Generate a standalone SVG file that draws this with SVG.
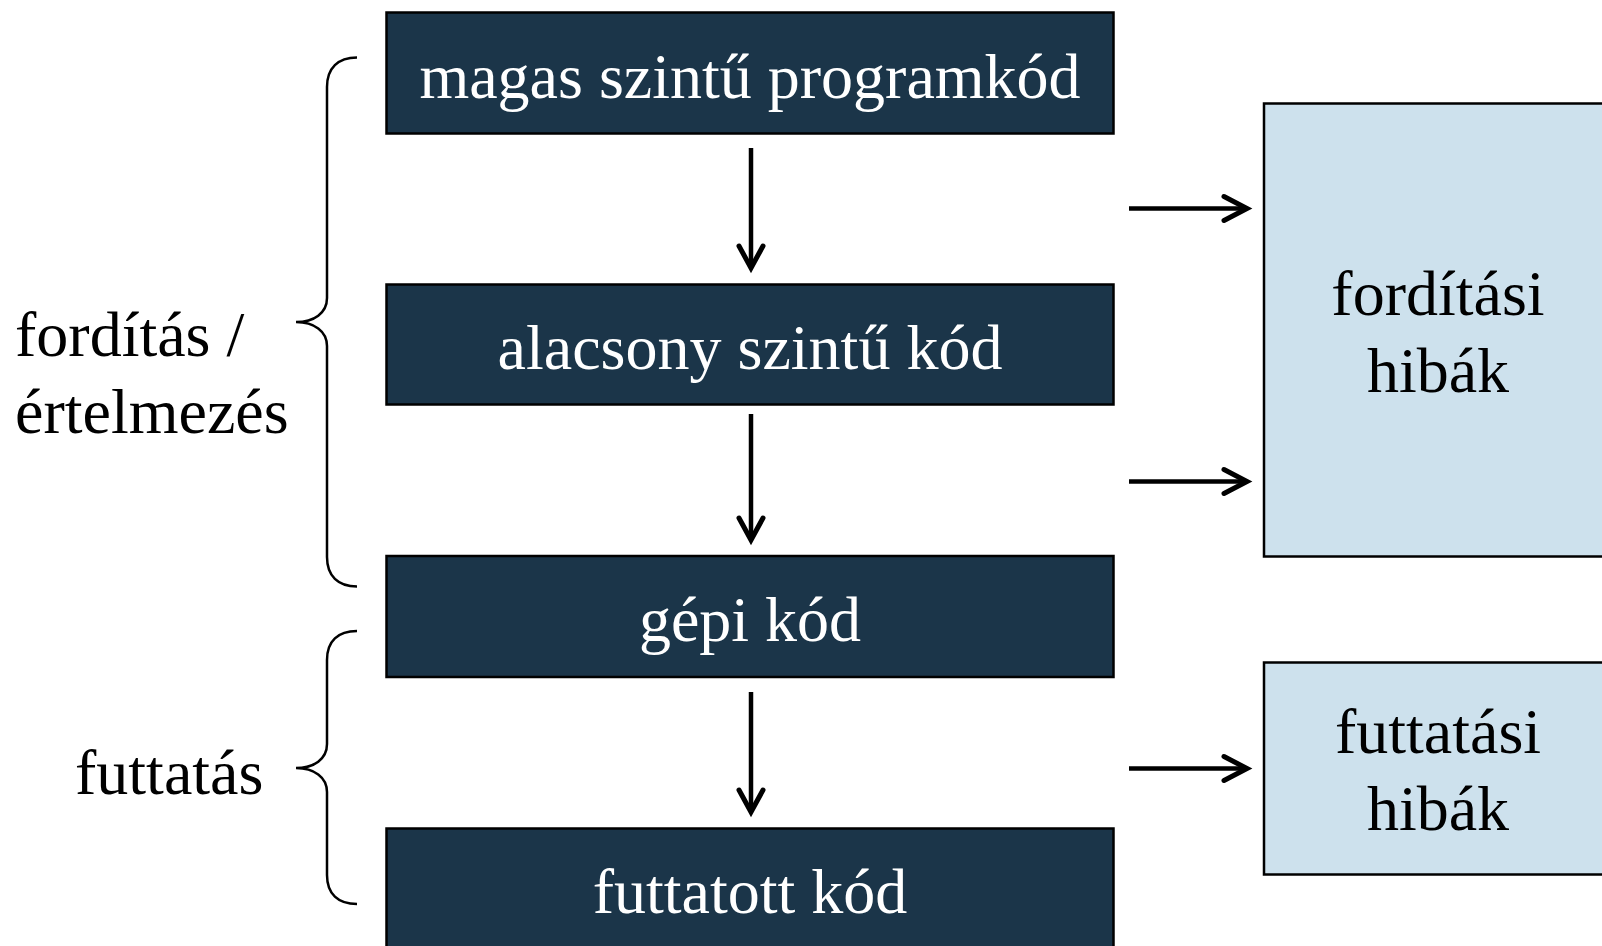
<svg xmlns="http://www.w3.org/2000/svg" width="1602" height="946" viewBox="0 0 1602 946">
  <defs>
    <style>
      .stage { fill: #1b3549; stroke: #000; stroke-width: 2.5; }
      .err { fill: #cde1ed; stroke: #000; stroke-width: 2.5; }
      .txt { font-family: "Liberation Serif", "Times New Roman", serif; font-size: 64px; text-anchor: middle; }
      .light { fill: #ffffff; }
      .dark { fill: #000000; }
      .lbl { font-family: "Liberation Serif", "Times New Roman", serif; font-size: 64px; fill: #000; }
      .flow { stroke: #000; stroke-width: 4.5; fill: none; }
      .head { stroke: #000; stroke-width: 5; fill: none; stroke-linecap: round; stroke-linejoin: miter; }
      .brace { stroke: #000; stroke-width: 2.5; fill: none; }
    </style>
  </defs>
  <rect width="1602" height="946" fill="#ffffff"/>

  <!-- pipeline stages -->
  <g id="node-high-level">
    <rect class="stage" x="386.5" y="12.5" width="727" height="121"/>
    <text class="txt light" x="750" y="98">magas szintű programkód</text>
  </g>
  <g id="node-low-level">
    <rect class="stage" x="386.5" y="284.5" width="727" height="120"/>
    <text class="txt light" x="750" y="369">alacsony szintű kód</text>
  </g>
  <g id="node-machine">
    <rect class="stage" x="386.5" y="556" width="727" height="121"/>
    <text class="txt light" x="750" y="641">gépi kód</text>
  </g>
  <g id="node-executed">
    <rect class="stage" x="386.5" y="828.5" width="727" height="130"/>
    <text class="txt light" x="750" y="913">futtatott kód</text>
  </g>

  <!-- error boxes -->
  <g id="node-compile-errors">
    <rect class="err" x="1264" y="103.5" width="360" height="453"/>
    <text class="txt dark" x="1438" y="315">fordítási</text>
    <text class="txt dark" x="1438" y="392">hibák</text>
  </g>
  <g id="node-runtime-errors">
    <rect class="err" x="1264" y="662.5" width="360" height="212"/>
    <text class="txt dark" x="1438" y="753">futtatási</text>
    <text class="txt dark" x="1438" y="830">hibák</text>
  </g>

  <!-- phase labels with braces -->
  <g id="label-translation">
    <path class="brace" d="M357,57.5 C338,57.5 327,68 327,87 L327,298 C327,313 314,322 296,322 C314,322 327,331 327,346 L327,557 C327,576 338,586.5 357,586.5"/>
    <text class="lbl" x="15" y="356">fordítás /</text>
    <text class="lbl" x="15" y="433">értelmezés</text>
  </g>
  <g id="label-execution">
    <path class="brace" d="M357,631 C338,631 327,641 327,660 L327,744 C327,759 314,768 296,768 C314,768 327,777 327,792 L327,875 C327,894 338,904 357,904"/>
    <text class="lbl" x="75" y="794">futtatás</text>
  </g>

  <!-- connectors -->
  <g id="connectors">
    <line class="flow" x1="751" y1="148" x2="751" y2="266"/>
    <polyline class="head" points="739,246 751,268 763,246"/>
    <line class="flow" x1="751" y1="414" x2="751" y2="538"/>
    <polyline class="head" points="739,518 751,540 763,518"/>
    <line class="flow" x1="751" y1="692" x2="751" y2="810"/>
    <polyline class="head" points="739,790 751,812 763,790"/>

    <line class="flow" x1="1129" y1="208.5" x2="1246" y2="208.5"/>
    <polyline class="head" points="1224,196.5 1247,208.5 1224,220.5"/>
    <line class="flow" x1="1129" y1="481.5" x2="1246" y2="481.5"/>
    <polyline class="head" points="1224,469.5 1247,481.5 1224,493.5"/>
    <line class="flow" x1="1129" y1="768.5" x2="1246" y2="768.5"/>
    <polyline class="head" points="1224,756.5 1247,768.5 1224,780.5"/>
  </g>
</svg>
